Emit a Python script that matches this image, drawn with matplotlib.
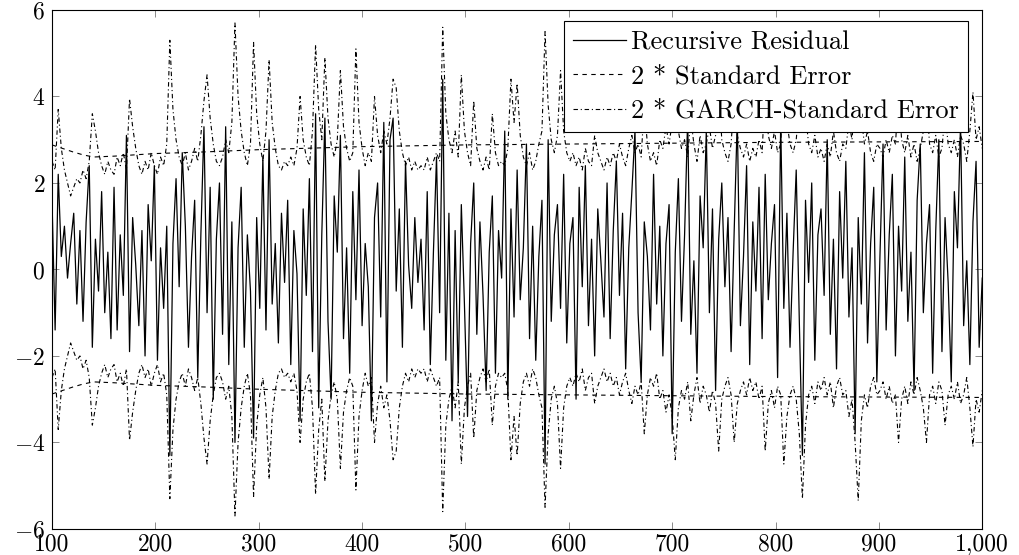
import numpy as np
import matplotlib
matplotlib.use("Agg")
import matplotlib.pyplot as plt

plt.rcParams['font.family'] = 'serif'
plt.rcParams['font.serif'] = ['cmr10']
plt.rcParams['mathtext.fontset'] = 'cm'
plt.rcParams['axes.formatter.use_mathtext'] = True

# time index sampled every 3 observations
t = list(range(100, 1001, 3))

residual = [
    1.6, -1.4, 2.2, 0.3, 1.0, -0.2, 0.6, 1.3, -0.8, 0.9,
    -1.2, 1.1, 2.4, -1.8, 0.7, -0.5, 1.8, -1.0, 0.4, -1.6,
    1.9, -1.4, 0.8, -0.6, 3.1, -1.9, 1.2, 0.1, -1.3, 0.9,
    -2.0, 1.5, 0.2, 2.4, -2.1, 0.5, -0.9, 1.0, -4.3, 0.6,
    2.1, -0.4, 2.7, 1.0, -1.8, 0.3, 1.6, -2.5, 0.8, 3.3,
    -1.0, 1.9, -3.0, 0.7, 2.0, -1.5, 3.3, -2.2, 1.1, -4.0,
    0.5, 1.9, -1.8, 0.8, -0.5, -3.9, 1.2, -0.9, 2.6, -1.4,
    3.0, -0.8, 0.6, -1.7, 1.3, -0.3, 1.6, -2.2, 0.9, -0.1,
    -3.5, 1.4, -0.6, 2.1, -1.9, 3.6, -3.2, 0.8, 3.5, -1.2,
    -3.0, 1.7, 0.4, 3.1, -1.6, 0.5, -2.4, 1.8, -0.7, 2.3,
    -1.3, 0.6, -0.4, -3.5, 1.2, 2.0, -1.1, 3.4, -2.6, 3.0,
    3.5, -0.5, 1.4, -1.8, 2.5, 0.1, -0.9, 1.2, -0.3, 0.7,
    -1.4, 1.8, -2.2, 0.4, 2.6, -1.0, 4.4, -2.1, 1.3, -3.5,
    0.9, -2.6, 1.5, -0.8, -3.4, 0.6, 2.0, -1.5, 1.1, -0.6,
    -2.8, 0.4, 1.7, -2.4, 0.9, -0.2, 3.2, -3.0, 1.4, -1.1,
    2.3, -0.7, 0.5, 2.9, -1.6, 1.0, -2.1, 0.3, 1.6, -4.5,
    3.0, -1.2, 0.8, 1.5, -0.9, 2.2, -1.7, 0.6, 1.2, -3.0,
    1.9, -0.4, 2.4, -1.3, 0.7, -2.0, 1.4, 0.2, -1.1, 2.0,
    -1.6, 0.9, 2.5, -0.6, 1.3, -2.3, 0.5, 1.8, 3.2, -1.0,
    -2.6, 1.1, 0.3, -1.4, 2.2, -0.8, 1.0, -2.0, 0.6, 1.5,
    -3.8, 0.4, 2.1, -1.2, 0.8, 3.5, -1.5, 0.2, -2.4, 1.7,
    0.5, 3.2, -1.0, 1.4, -2.8, 0.7, 2.0, -0.4, 1.2, -1.9,
    0.9, 3.5, -1.3, 0.3, 2.4, -2.2, 1.1, -0.5, 1.9, -1.6,
    2.2, -0.7, 0.6, 1.5, -2.5, 3.4, -0.9, 1.3, -1.8, 0.4,
    2.3, -1.2, -4.3, 1.6, -0.3, 2.0, -2.1, 0.8, 1.4, -0.6,
    3.0, -1.5, 0.7, -2.3, 1.8, -0.2, 2.5, -1.1, 0.5, -3.8,
    1.2, -0.8, 2.7, -1.7, 0.6, 1.9, -2.6, 0.3, 2.9, -1.4,
    0.8, 2.2, -2.0, 1.0, -0.5, 2.6, -1.2, 0.4, -2.8, 1.6,
    2.9, -1.0, 0.6, 1.5, -2.4, 0.9, 3.0, -1.9, 1.2, -0.3,
    -2.6, 1.8, 0.5, 3.4, -1.3, 0.2, -2.2, 1.1, 2.5, -1.8,
    -0.2,
]

garch_se2 = [
    2.5, 2.3, 3.7, 2.8, 2.3, 2.0, 1.7, 1.9, 2.1, 2.0,
    2.3, 2.1, 2.5, 3.6, 3.2, 2.7, 2.4, 2.2, 2.5, 2.3,
    2.2, 2.6, 2.4, 2.7, 2.3, 3.95, 3.3, 2.8, 2.4, 2.2,
    2.5, 2.3, 2.7, 2.4, 2.2, 2.6, 2.4, 2.9, 5.3, 3.7,
    3.0, 2.6, 2.4, 2.7, 2.3, 2.5, 2.8, 2.5, 3.1, 3.9,
    4.5, 3.5, 2.9, 2.5, 2.4, 2.6, 3.0, 2.7, 3.4, 5.7,
    4.0, 3.2, 2.7, 2.4, 2.9, 5.25, 3.6, 2.9, 2.5, 3.2,
    4.85, 3.4, 2.8, 2.4, 2.3, 2.5, 2.4, 2.6, 2.4, 2.8,
    4.0, 3.0, 2.6, 2.4, 3.2, 5.2, 3.7, 3.0, 4.9, 3.5,
    2.9, 2.6, 3.0, 4.6, 3.3, 2.8, 2.5, 2.7, 5.1, 3.4,
    2.8, 2.4, 2.7, 2.5, 4.0, 3.1, 2.7, 3.2, 2.9, 3.5,
    4.4, 4.2, 3.2, 2.7, 2.4, 2.6, 2.3, 2.5, 2.3, 2.4,
    2.3, 2.6, 2.3, 2.5, 2.7, 2.5, 5.6, 3.6, 3.0, 2.7,
    3.2, 2.6, 4.5, 3.2, 2.7, 2.4, 3.9, 2.8, 2.5, 2.3,
    2.6, 2.3, 3.6, 2.7, 2.4, 2.5, 2.4, 2.8, 4.4, 3.4,
    4.3, 3.1, 2.6, 2.4, 2.7, 2.3, 2.5, 2.9, 3.2, 5.5,
    3.8, 3.0, 2.7, 3.1, 4.6, 3.2, 2.7, 2.5, 2.7, 2.4,
    2.6, 2.3, 2.8, 2.5, 2.4, 3.1, 2.7, 2.5, 2.3, 2.6,
    2.4, 2.7, 2.5, 2.9, 2.6, 2.4, 2.8, 3.1, 2.7, 2.9,
    2.6, 3.8, 2.9, 2.5, 2.7, 2.4, 3.0, 2.8, 3.3, 2.9,
    3.4, 4.4, 3.2, 2.8, 3.0, 2.6, 3.5, 2.9, 2.5, 3.1,
    2.7, 2.9, 3.3, 2.8, 3.1, 4.2, 3.0, 2.7, 2.5, 2.9,
    4.0, 3.1, 2.8, 2.6, 2.9, 2.5, 2.8, 2.6, 3.0, 2.7,
    4.2, 3.1, 2.8, 3.2, 2.7, 2.9, 4.5, 3.4, 2.9, 2.7,
    3.0, 3.8, 5.3, 3.6, 2.9, 2.7, 3.1, 2.6, 2.8, 2.5,
    2.9, 2.6, 3.2, 2.7, 2.5, 2.9, 2.8, 3.4, 3.0, 4.0,
    5.35, 3.5, 2.9, 3.2, 2.7, 2.5, 2.9, 2.8, 2.6, 3.0,
    2.7, 3.1, 2.9, 4.0, 3.0, 2.7, 3.1, 2.6, 2.9, 2.5,
    2.8, 3.2, 4.0, 2.9, 2.7, 3.1, 2.6, 2.8, 3.6, 2.9,
    2.7, 3.0, 2.6, 3.1, 2.9, 2.5, 3.2, 4.1, 3.0, 3.3,
    2.8,
]

se_t = [100, 110, 120, 130, 140, 160, 200, 250, 300, 400, 500, 600, 700, 800, 900, 1000]
se2 = [2.88, 2.8, 2.72, 2.65, 2.6, 2.62, 2.68, 2.72, 2.77, 2.84, 2.88, 2.9, 2.92, 2.94, 2.95, 2.96]

xticks = [100, 200, 300, 400, 500, 600, 700, 800, 900, 1000]
xticklabels = ['100', '200', '300', '400', '500', '600', '700', '800', '900', '1,000']
yticks = [-6, -4, -2, 0, 2, 4, 6]

fig = plt.figure(figsize=(10.2, 5.55), dpi=100)
ax = fig.add_axes([0.051, 0.047, 0.912, 0.935])

lw = 0.9
ax.plot(t, residual, color='black', lw=lw, label='Recursive Residual')
se_arr = np.array(se2)
ax.plot(se_t, se_arr, color='black', lw=0.8, ls=(0, (4, 4)), label='2 * Standard Error')
ax.plot(se_t, -se_arr, color='black', lw=0.8, ls=(0, (4, 4)))
g = np.array(garch_se2)
ax.plot(t, g, color='black', lw=0.8, ls=(0, (4, 2.5, 1, 2.5)), label='2 * GARCH-Standard Error')
ax.plot(t, -g, color='black', lw=0.8, ls=(0, (4, 2.5, 1, 2.5)))

ax.set_xlim(100, 1000)
ax.set_ylim(-6, 6)
ax.set_xticks(xticks)
ax.set_xticklabels(xticklabels)
ax.set_yticks(yticks)
ax.tick_params(direction='in', top=True, right=True, length=5, width=0.6,
               color='#777777', labelsize=17)
ax.tick_params(axis='x', pad=3)
ax.tick_params(axis='y', pad=5)
for s in ax.spines.values():
    s.set_linewidth(0.8)

leg = ax.legend(loc='upper right', bbox_to_anchor=(0.985, 0.978), fontsize=19,
                frameon=True, fancybox=False, edgecolor='black', framealpha=1,
                handlelength=2.0, handletextpad=0.2, borderpad=0.35,
                labelspacing=0.4, borderaxespad=0)
leg.get_frame().set_linewidth(0.8)

fig.savefig('out.png', dpi=100)
